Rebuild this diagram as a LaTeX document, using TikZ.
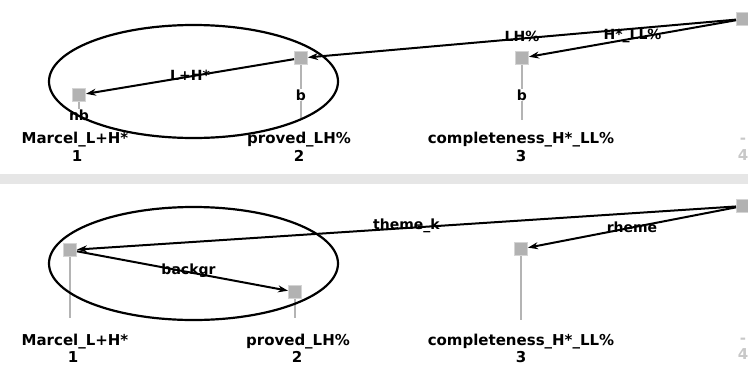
\documentclass[tikz,border=0pt]{standalone}
\usepackage{fontspec}
\setmainfont{DejaVu Sans}
\usetikzlibrary{arrows.meta}
\definecolor{sq}{RGB}{178,178,178}
\definecolor{sqb}{RGB}{212,212,212}
\definecolor{stem}{RGB}{180,180,180}
\definecolor{band}{RGB}{230,230,230}
\definecolor{faint}{RGB}{200,200,200}
\tikzset{
  tok/.style={rectangle, minimum size=13pt, inner sep=0pt, fill=sq, draw=sqb, line width=1pt},
  dep/.style={-{Stealth[length=10pt,width=7pt]}, line width=2pt, draw=black},
  elab/.style={font=\fontsize{14}{16}\selectfont\bfseries, inner sep=0pt},
  word/.style={font=\fontsize{15}{18}\selectfont\bfseries, inner sep=0pt},
  stemline/.style={draw=stem, line width=2pt},
  slab/.style={font=\fontsize{14}{16}\selectfont\bfseries, fill=white, inner sep=1pt},
  faintlab/.style={font=\fontsize{15}{18}\selectfont\bfseries, text=faint, inner sep=0pt},
  circ/.style={draw=black, line width=2.2pt},
}
\begin{document}
\begin{tikzpicture}[x=1pt,y=-1pt]
\useasboundingbox (0,0) rectangle (748,365);
\fill[band] (0,174) rectangle (748,184);

% ---------- top panel ----------
\coordinate (t1e) at (79,120);
\coordinate (t2e) at (301,118);
\coordinate (t3e) at (522,120);
\node[tok] (t1) at (79,95) {};
\node[tok] (t2) at (301,58) {};
\node[tok] (t3) at (522,58) {};
\node[tok] (t4) at (743,19) {};
\draw[stemline] (t1) -- (t1e);
\draw[stemline] (t2) -- (t2e);
\draw[stemline] (t3) -- (t3e);
\node[slab] (t1l) at (79,115) {nb};
\node[slab] (t2l) at (301,95) {b};
\node[slab] (t3l) at (522,95) {b};

\draw[dep] (t4) -- node[elab, yshift=2pt] (e42) {LH\%} (t2);
\draw[dep] (t4) -- node[elab, yshift=3pt] (e43) {H*\_LL\%} (t3);
\draw[dep] (t2) -- node[elab, yshift=1pt] (e21) {L+H*} (t1);

\node[word] (w1) at (75,140) {Marcel\_L+H*};
\node[word] (i1) at (77,156) {1};
\node[word] (w2) at (299,140) {proved\_LH\%};
\node[word] (i2) at (299,156) {2};
\node[word] (w3) at (521,140) {completeness\_H*\_LL\%};
\node[word] (i3) at (521,156) {3};
\node[faintlab] (w4) at (743,141) {-};
\node[faintlab] (i4) at (743,155) {4};

\draw[circ] (193.5,81.5) ellipse [x radius=144.5, y radius=56.5];

% ---------- bottom panel ----------
\coordinate (b1e) at (70,318);
\coordinate (b2e) at (295,318);
\coordinate (b3e) at (521,320);
\node[tok] (b1) at (70,250) {};
\node[tok] (b2) at (295,292) {};
\node[tok] (b3) at (521,249) {};
\node[tok] (b4) at (743,206) {};
\draw[stemline] (b1) -- (b1e);
\draw[stemline] (b2) -- (b2e);
\draw[stemline] (b3) -- (b3e);

\draw[dep] (b4) -- node[elab, yshift=2pt] (e41) {theme\_k} (b1);
\draw[dep] (b4) -- node[elab] (e43b) {rheme} (b3);
\draw[dep] (b1) -- node[elab, xshift=6pt] (e12) {backgr} (b2);

\node[word] (v1) at (75,342) {Marcel\_L+H*};
\node[word] (j1) at (73,357) {1};
\node[word] (v2) at (298,342) {proved\_LH\%};
\node[word] (j2) at (297,357) {2};
\node[word] (v3) at (521,342) {completeness\_H*\_LL\%};
\node[word] (j3) at (521,357) {3};
\node[faintlab] (v4) at (743,341) {-};
\node[faintlab] (j4) at (743,354) {4};

\draw[circ] (193.5,263.5) ellipse [x radius=144.5, y radius=56.5];
\end{tikzpicture}
\end{document}
